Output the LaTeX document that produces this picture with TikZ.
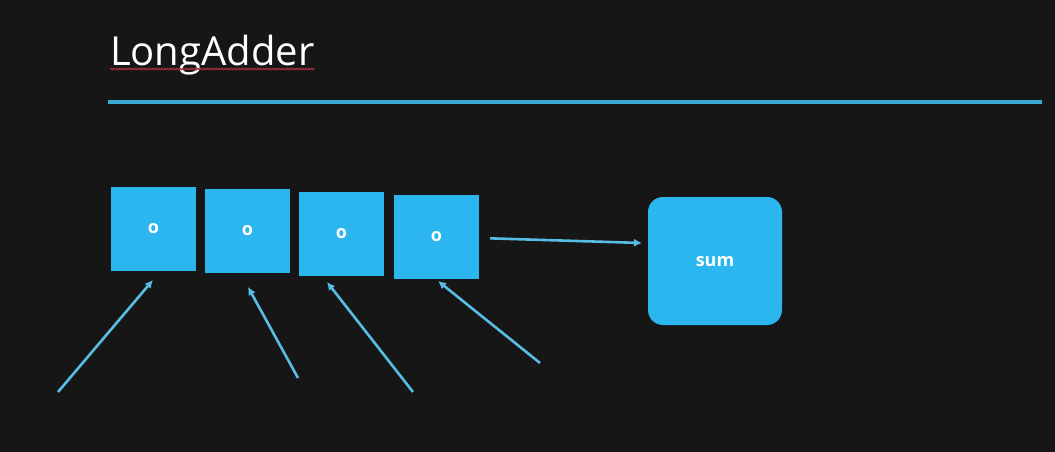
\documentclass[tikz,border=0pt]{standalone}
\usepackage{fontspec}
\setmainfont{Open Sans}
\usetikzlibrary{positioning}
\usetikzlibrary{arrows.meta,decorations.pathmorphing}
\usepackage{xcolor}
\definecolor{board}{HTML}{161616}
\definecolor{cellblue}{HTML}{2BB6EF}
\definecolor{lineblue}{HTML}{3AA9D4}
\definecolor{arrowblue}{HTML}{58BDE4}
\definecolor{squiggle}{HTML}{A02C3C}

\begin{document}
\begin{tikzpicture}[x=1pt, y=-1pt, every node/.style={inner sep=0,outer sep=0, font=\fontsize{18}{20}\selectfont\bfseries, text=white}, node distance=9pt,
		cell/.style={fill=cellblue, minimum width=85pt, minimum height=84pt},
		link/.style={draw=arrowblue, line width=2.6pt, -{Latex[length=8pt,width=8pt]}}]
		
		%Board
		\fill[board] (0,0) rectangle (1055,452);
		
		%Nodes
		\node[anchor=base west, font=\fontsize{40}{44}\selectfont] (title) at (110,66) {LongAdder};
		\node[cell] (c1) at (153.5,229) {o};
		\node[cell] (c2) [right=of c1, yshift=-2pt] {o};
		\node[cell] (c3) [right=of c2, yshift=-2.5pt] {o};
		\node[cell] (c4) [right=10pt of c3, yshift=-3.5pt] {o};
		\node[fill=cellblue, rounded corners=15pt, minimum width=134pt, minimum height=128pt, text depth=-4pt] (sum) at (715,261) {sum};
		
		\coordinate (r1) at (108,102);
		\coordinate (r2) at (1042,102);
		\coordinate (t1) at (58,392);
		\coordinate (t2) at (298,378);
		\coordinate (t3) at (413,392);
		\coordinate (t4) at (540,363);
		
		%Lines
		\draw[squiggle, line width=1.2pt, decorate, decoration={snake, amplitude=0.7pt, segment length=3pt}] ([yshift=-3pt]title.base west) -- ([yshift=-3pt]title.base east);
		\draw[lineblue, line width=3.5pt] (r1) -- (r2);
		\draw[link, shorten <=11pt] ([yshift=-1pt]c4.east) -- ([xshift=-6pt,yshift=18pt]sum.west);
		\draw[link] (t1) -- ([xshift=-0.5pt,yshift=-9pt]c1.south);
		\draw[link] (t2) -- ([xshift=0.5pt,yshift=-14pt]c2.south);
		\draw[link] (t3) -- ([xshift=-14.5pt,yshift=-6.5pt]c3.south);
		\draw[link] (t4) -- ([xshift=1.5pt,yshift=-2pt]c4.south);
	\end{tikzpicture}
\end{document}
